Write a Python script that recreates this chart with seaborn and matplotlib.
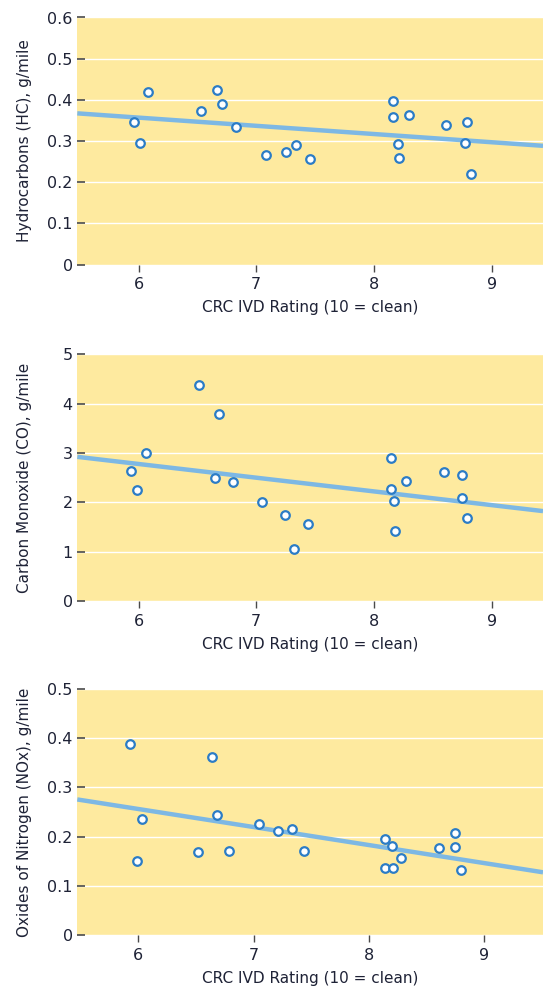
import matplotlib
matplotlib.use("Agg")
import matplotlib.pyplot as plt
import seaborn as sns
import pandas as pd

# ---- data ----
hc_rating = [5.96, 6.01, 6.08, 6.53, 6.67, 6.71, 6.83, 7.08, 7.25, 7.34, 7.46,
             8.16, 8.16, 8.30, 8.20, 8.21, 8.61, 8.79, 8.77, 8.82]
hc_values = [0.345, 0.296, 0.420, 0.374, 0.424, 0.390, 0.333, 0.266, 0.274, 0.290, 0.256,
             0.397, 0.359, 0.363, 0.292, 0.259, 0.340, 0.346, 0.296, 0.219]

co_rating = [5.94, 5.99, 6.06, 6.51, 6.68, 6.65, 6.80, 7.05, 7.24, 7.32, 7.44,
             8.14, 8.14, 8.17, 8.27, 8.18, 8.59, 8.75, 8.75, 8.79]
co_values = [2.63, 2.25, 3.00, 4.38, 3.79, 2.50, 2.42, 2.01, 1.75, 1.05, 1.57,
             2.91, 2.28, 2.03, 2.44, 1.43, 2.61, 2.56, 2.09, 1.69]

nox_rating = [5.93, 5.99, 6.03, 6.52, 6.64, 6.68, 6.79, 7.05, 7.21, 7.33, 7.44,
              8.14, 8.20, 8.28, 8.14, 8.21, 8.61, 8.75, 8.75, 8.80]
nox_values = [0.389, 0.151, 0.236, 0.168, 0.361, 0.243, 0.170, 0.226, 0.212, 0.215, 0.170,
              0.196, 0.181, 0.157, 0.136, 0.136, 0.176, 0.207, 0.179, 0.132]

y_labels = ["Hydrocarbons (HC), g/mile",
            "Carbon Monoxide (CO), g/mile",
            "Oxides of Nitrogen (NOx), g/mile"]
x_label = "CRC IVD Rating (10 = clean)"
x_ticks = [6, 7, 8, 9]
hc_ticks = [0, 0.1, 0.2, 0.3, 0.4, 0.5, 0.6]
hc_tick_labels = ["0", "0.1", "0.2", "0.3", "0.4", "0.5", "0.6"]
co_ticks = [0, 1, 2, 3, 4, 5]
co_tick_labels = ["0", "1", "2", "3", "4", "5"]
nox_ticks = [0, 0.1, 0.2, 0.3, 0.4, 0.5]
nox_tick_labels = ["0", "0.1", "0.2", "0.3", "0.4", "0.5"]

# ---- style ----
sns.set_theme(style="white")
plt.rcParams["font.family"] = ["DejaVu Sans"]

BG = "#FEEA9F"
TEXT = "#1e2236"
EDGE = "#2b7cc6"
LINE = "#7db8e4"

fig = plt.figure(figsize=(5.43, 9.88), dpi=100)
left, width = 77.3 / 543, (543 - 77.3) / 543
rects = [
    (left, 1 - 264.5 / 988, width, 247 / 988),
    (left, 1 - 601 / 988, width, 246.5 / 988),
    (left, 1 - 935 / 988, width, 246 / 988),
]
xlims = [(5.48, 9.435), (5.48, 9.435), (5.47, 9.51)]
panels = [
    (hc_rating, hc_values, hc_ticks, hc_tick_labels),
    (co_rating, co_values, co_ticks, co_tick_labels),
    (nox_rating, nox_values, nox_ticks, nox_tick_labels),
]

for i, (rect, xl, (xr, yv, yt, ytl)) in enumerate(zip(rects, xlims, panels)):
    ax = fig.add_axes(rect)
    ax.set_facecolor(BG)
    df = pd.DataFrame({"rating": xr, "value": yv})
    ax.set_xlim(*xl)
    ax.set_ylim(yt[0], yt[-1])
    sns.regplot(data=df, x="rating", y="value", ax=ax, ci=None, truncate=False,
                scatter_kws=dict(s=38, facecolor="white", edgecolor=EDGE,
                                 linewidths=1.6, zorder=3, alpha=1),
                line_kws=dict(color=LINE, lw=3.2, zorder=2, solid_capstyle="butt"))
    ax.set_xlim(*xl)
    ax.set_ylim(yt[0], yt[-1])
    ax.set_xticks(x_ticks)
    ax.set_xticklabels([str(t) for t in x_ticks])
    ax.set_yticks(yt)
    ax.set_yticklabels(ytl)
    for s in ax.spines.values():
        s.set_visible(False)
    ax.grid(axis="y", color="white", lw=1.0, zorder=0)
    ax.grid(axis="x", visible=False)
    ax.set_axisbelow(True)
    ax.tick_params(axis="y", direction="in", length=6, width=1.2, color="#4a4a4a",
                   pad=3.3, labelsize=11.5, labelcolor=TEXT, left=True)
    ax.tick_params(axis="x", direction="out", length=5, width=1.0, color="#4a4a4a",
                   pad=4.0, labelsize=11.5, labelcolor=TEXT, bottom=True)
    ax.set_xlabel(x_label, fontsize=11, color=TEXT, labelpad=6)
    ax.set_ylabel(y_labels[i], fontsize=11, color=TEXT)
    ax.yaxis.set_label_coords((32 - 77.3) / (543 - 77.3), 0.5)

fig.savefig("out.png", dpi=100)
